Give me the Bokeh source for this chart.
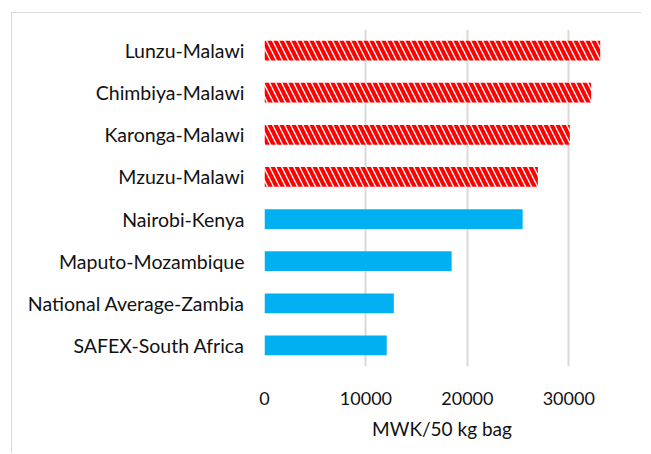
from bokeh.plotting import figure
from bokeh.models import FactorRange, Range1d
from bokeh.embed import file_html
from bokeh.resources import INLINE

markets = ["SAFEX-South Africa", "National Average-Zambia", "Maputo-Mozambique",
           "Nairobi-Kenya", "Mzuzu-Malawi", "Karonga-Malawi", "Chimbiya-Malawi", "Lunzu-Malawi"]
prices = [12050, 12750, 18450, 25450, 26950, 30100, 32200, 33100]
is_malawi = [False, False, False, False, True, True, True, True]
x_ticks = [0, 10000, 20000, 30000]
x_title = "MWK/50 kg bag"

other_m = [m for m, f in zip(markets, is_malawi) if not f]
other_v = [v for v, f in zip(prices, is_malawi) if not f]
mw_m = [m for m, f in zip(markets, is_malawi) if f]
mw_v = [v for v, f in zip(prices, is_malawi) if f]

FONT = "Lato"

p = figure(width=630, height=441, output_backend="svg", toolbar_location=None,
           y_range=FactorRange(*markets, range_padding=0),
           x_range=Range1d(0, 35000),
           min_border_left=252, min_border_right=23, min_border_top=16, min_border_bottom=88)
p.styles = {"border-left": "1px solid #d9d9d9", "border-top": "1px solid #d9d9d9",
            "margin-left": "11px", "margin-top": "12px"}
p.outline_line_color = None

p.hbar(y=other_m, right=other_v, left=0, height=0.47, fill_color="#00B0F0", line_color=None)
p.hbar(y=mw_m, right=mw_v, left=0, height=0.47, fill_color="white", line_color=None,
       hatch_pattern="\\", hatch_color="#FF0000", hatch_scale=12, hatch_weight=4)

p.xaxis.ticker = x_ticks
p.xgrid.grid_line_color = "#d9d9d9"
p.xgrid.grid_line_width = 2
p.ygrid.grid_line_color = None
for ax in (p.xaxis, p.yaxis):
    ax.axis_line_color = None
    ax.major_tick_line_color = None
    ax.minor_tick_line_color = None
    ax.major_tick_out = 0
    ax.major_tick_in = 0
    ax.major_label_text_font = FONT
    ax.major_label_text_color = "#111111"
p.xaxis.major_label_text_font_size = "18px"
p.yaxis.major_label_text_font_size = "19.5px"
p.yaxis.major_label_standoff = 20
p.xaxis.major_label_standoff = 25
p.xaxis.axis_label = x_title
p.xaxis.axis_label_text_font = FONT
p.xaxis.axis_label_text_font_size = "19px"
p.xaxis.axis_label_text_font_style = "normal"
p.xaxis.axis_label_text_color = "#111111"
p.xaxis.axis_label_standoff = 9

open("out.html", "w").write(file_html(p, INLINE))
